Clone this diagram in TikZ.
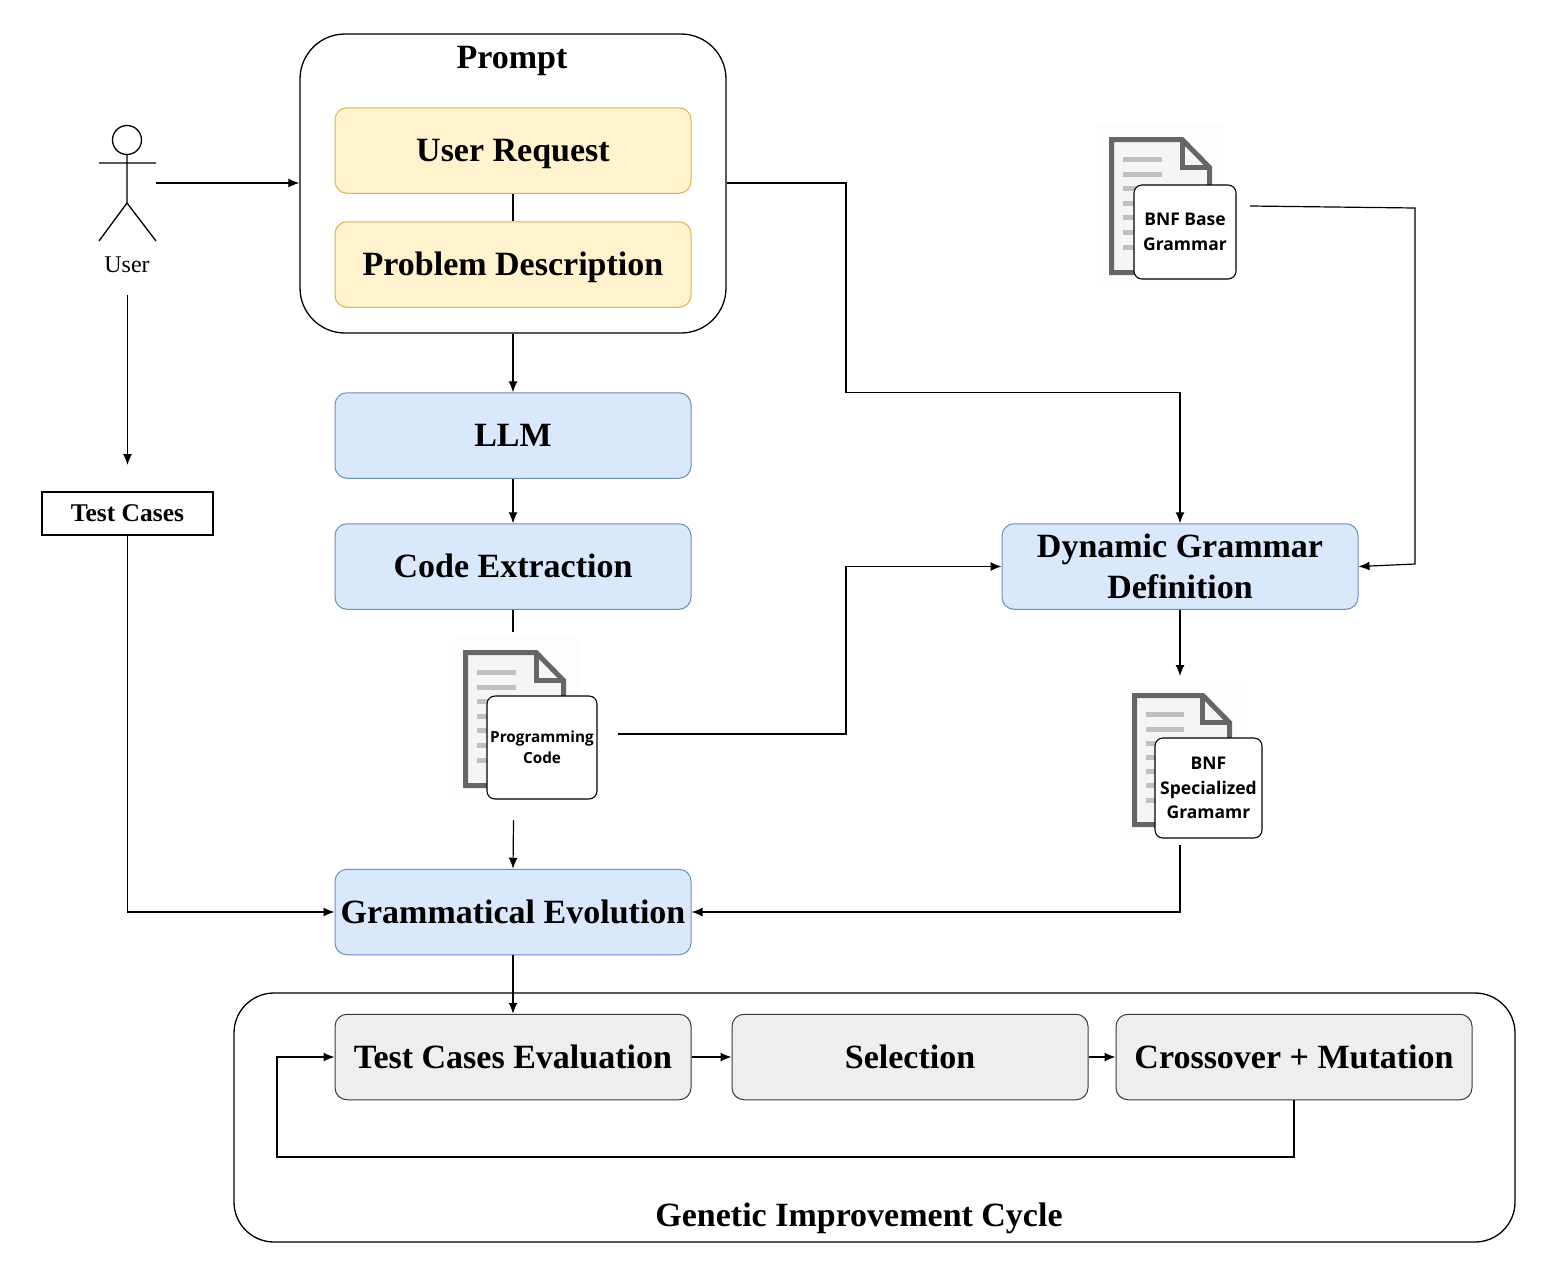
\documentclass[tikz,border=0pt]{standalone}
\usepackage{fontspec}
\setmainfont{Liberation Serif}
\newfontfamily\labelfont{Open Sans}
\usetikzlibrary{arrows.meta}
\definecolor{blueFill}{HTML}{DAE8FC}
\definecolor{blueLine}{HTML}{6C8EBF}
\definecolor{yellowFill}{HTML}{FFF2CC}
\definecolor{yellowLine}{HTML}{D6B656}
\definecolor{greyFill}{HTML}{EEEEEE}
\definecolor{greyLine}{HTML}{36393D}
\definecolor{docLine}{HTML}{666666}
\definecolor{docFill}{HTML}{F5F5F5}
\definecolor{docText}{HTML}{C0C0C0}
\definecolor{docBack}{HTML}{FDFDFD}
\tikzset{
  stepbox/.style={draw,rounded corners=12pt,line width=1pt,minimum width=356pt,minimum height=85.5pt,inner sep=0pt,align=center,text height=22.5pt,text depth=0pt,font=\fontsize{34}{41}\selectfont\bfseries},
  bluebox/.style={stepbox,fill=blueFill,draw=blueLine},
  yellowbox/.style={stepbox,fill=yellowFill,draw=yellowLine},
  greybox/.style={stepbox,fill=greyFill,draw=greyLine},
  titletext/.style={inner sep=0pt,text height=22.5pt,text depth=0pt,font=\fontsize{34}{41}\selectfont\bfseries},
  docbox/.style={draw,fill=white,rounded corners=8pt,line width=1.1pt,inner sep=0pt,align=center,font=\labelfont\fontsize{17.5}{24.5}\selectfont\bfseries},
  outerbox/.style={draw,line width=1.3pt,inner sep=0pt},
  link/.style={line width=1.2pt},
  linkto/.style={link,-{Latex[length=11pt,width=9pt]}},
}
\begin{document}
\begin{tikzpicture}[x=1pt,y=-1pt]
    \useasboundingbox (0,0) rectangle (1557,1277);
    % prompt group
    \node[outerbox,rounded corners=45pt,minimum width=426pt,minimum height=299pt] (prompt) at (513,183.5) {};
    \node[titletext] (promptTitle) at (512,57) {Prompt};
    \node[yellowbox] (request) at (513,150.5) {User Request};
    \node[yellowbox] (problem) at (513,264.5) {Problem Description};
    \draw[link] (request) -- (problem);
    % main column
    \node[bluebox] (llm) at (513,435.5) {LLM};
    \node[bluebox] (extract) at (513,566.5) {Code Extraction};
    \node[bluebox] (ge) at (513,912) {Grammatical Evolution};
    \node[bluebox,text height={},text depth={}] (dynamic) at (1180,566.5) {Dynamic Grammar\\Definition};
    % cycle group
    \node[outerbox,rounded corners=40pt,minimum width=1281pt,minimum height=249pt] (cycle) at (874.5,1117.5) {};
    \node[titletext] (cycleTitle) at (859,1215) {Genetic Improvement Cycle};
    \node[greybox] (eval) at (513,1057) {Test Cases Evaluation};
    \node[greybox] (select) at (910,1057) {Selection};
    \node[greybox] (cross) at (1294,1057) {Crossover + Mutation};
    % user figure
    \draw[line width=1.3pt] (127,140) circle (14.5);
    \draw[line width=1.3pt] (127,154.5) -- (127,203) (99,163) -- (156,163) (99,241) -- (127,203) -- (156,241);
    \node[font=\fontsize{24}{28}\selectfont] (user) at (127,265) {User};
    \node[draw,line width=1.2pt,minimum width=171pt,minimum height=43pt,inner sep=0pt,font=\fontsize{25.5}{28}\selectfont\bfseries] (tests) at (127.5,513.5) {Test Cases};
    % document icons
    \foreach \dx/\dy/\dw/\dh in {1111.5/139.5/98/133, 465.5/652.5/98/133, 1134.5/695.5/95/129}{
      \fill[docBack] (\dx-16,\dy-16) rectangle (\dx+\dw+16,\dy+\dh+16);
      \draw[line width=5pt,draw=docLine,fill=docFill] (\dx,\dy) -- (\dx+0.72*\dw,\dy) -- (\dx+\dw,\dy+0.21*\dh) -- (\dx+\dw,\dy+\dh) -- (\dx,\dy+\dh) -- cycle;
      \draw[line width=5pt,draw=docLine] (\dx+0.72*\dw,\dy) -- (\dx+0.72*\dw,\dy+0.21*\dh) -- (\dx+\dw,\dy+0.21*\dh);
      \foreach \lf in {0.15,0.26,0.37,0.48,0.59,0.70,0.81}{
        \draw[line width=5pt,draw=docText] (\dx+0.12*\dw,\dy+\lf*\dh) -- (\dx+0.52*\dw,\dy+\lf*\dh);
      }
    }
    \node[docbox,minimum width=102pt,minimum height=94pt] (baseDoc) at (1185,232) {BNF Base\\Grammar};
    \node[docbox,minimum width=110pt,minimum height=103pt,font=\labelfont\fontsize{15.3}{21}\selectfont\bfseries] (codeDoc) at (542,747.5) {Programming\\Code};
    \node[docbox,minimum width=107pt,minimum height=100pt] (specDoc) at (1208.5,788) {BNF\\Specialized\\Gramamr};
    % free ends
    \coordinate (userOut) at (156,183);
    \coordinate (userDown) at (127.5,295);
    \coordinate (testsIn) at (127.5,465);
    \coordinate (extractEnd) at (513,632);
    \coordinate (codeOut) at (618,734);
    \coordinate (codeDown) at (513.5,820);
    \coordinate (baseOut) at (1250,206);
    \coordinate (specIn) at (1180,676);
    \coordinate (specOut) at (1180,845);
    % connectors
    \draw[linkto] (userOut) -- (prompt.west |- userOut);
    \draw[linkto] (userDown) -- (testsIn);
    \draw[linkto] (tests.south) |- (ge.west);
    \draw[linkto] (prompt.south -| llm.north) -- (llm.north);
    \draw[linkto] (llm) -- (extract);
    \draw[link] (extract.south) -- (extractEnd);
    \draw[linkto] (codeDown) -- (ge.north);
    \draw[linkto] (prompt.east |- userOut) -- (846,183) -- (846,392.5) -- (1180,392.5) -- (dynamic.north);
    \draw[linkto] (codeOut) -- (846,734) -- (846,566.5) -- (dynamic.west);
    \draw[linkto] (baseOut) -- (1415,208) -- (1415,564) -- (dynamic.east);
    \draw[linkto] (dynamic.south) -- (specIn);
    \draw[linkto] (specOut) |- (ge.east);
    \draw[linkto] (ge.south) -- (eval.north);
    \draw[linkto] (eval) -- (select);
    \draw[linkto] (select) -- (cross);
    \draw[linkto] (cross.south) -- (1294,1157) -- (277,1157) -- (277,1057) -- (eval.west);
\end{tikzpicture}
\end{document}
